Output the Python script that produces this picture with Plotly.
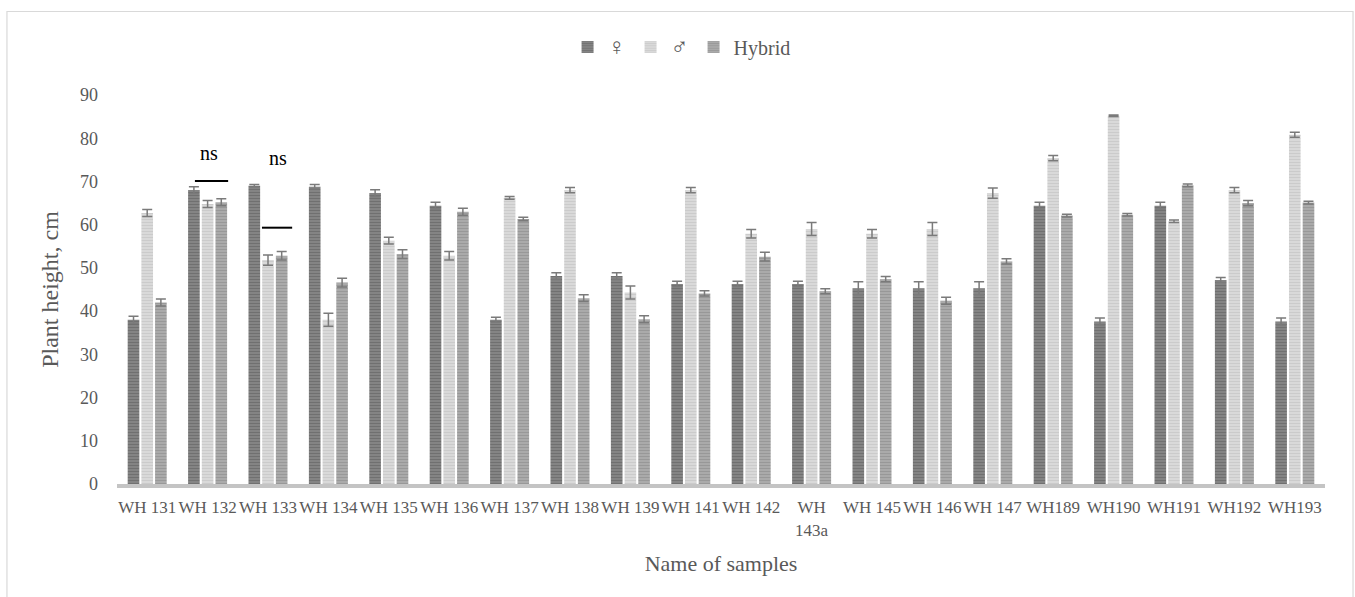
import plotly.graph_objects as go

categories = ["WH 131", "WH 132", "WH 133", "WH 134", "WH 135", "WH 136", "WH 137",
              "WH 138", "WH 139", "WH 141", "WH 142", "WH<br>143a", "WH 145", "WH 146",
              "WH 147", "WH189", "WH190", "WH191", "WH192", "WH193"]

female = [38.0, 68.0, 69.0, 68.8, 67.3, 64.4, 38.0, 48.1, 48.1, 46.3, 46.3, 46.3,
          45.3, 45.3, 45.3, 64.4, 37.6, 64.4, 47.2, 37.6]
male = [62.7, 64.8, 51.8, 38.0, 56.3, 52.8, 66.2, 68.0, 44.3, 68.0, 57.9, 59.0,
        57.9, 59.0, 67.3, 75.4, 85.2, 60.8, 68.0, 80.8]
hybrid = [42.0, 65.2, 52.8, 46.6, 53.2, 63.0, 61.3, 43.0, 38.1, 44.1, 52.6, 44.6,
          47.4, 42.4, 51.5, 62.1, 62.3, 69.1, 65.0, 65.1]

female_err = [0.8, 0.8, 0.3, 0.5, 0.8, 0.8, 0.6, 0.8, 0.8, 0.6, 0.6, 0.6,
              1.5, 1.5, 1.5, 0.8, 0.8, 0.8, 0.6, 0.8]
male_err = [0.8, 0.8, 1.2, 1.5, 0.8, 1.0, 0.3, 0.6, 1.5, 0.6, 1.0, 1.5,
            1.0, 1.5, 1.2, 0.6, 0.2, 0.3, 0.6, 0.6]
hybrid_err = [0.8, 0.8, 1.0, 1.0, 1.0, 0.8, 0.4, 0.8, 0.8, 0.6, 1.0, 0.6,
              0.6, 0.8, 0.6, 0.3, 0.3, 0.3, 0.6, 0.3]

series_names = ["♀", "♂", "Hybrid"]
y_ticks = [0, 10, 20, 30, 40, 50, 60, 70, 80, 90]

styles = [
    dict(bg="#8a8a8a", fg="#555555", label_size=24),
    dict(bg="#dedede", fg="#b8b8b8", label_size=24),
    dict(bg="#b0b0b0", fg="#808080", label_size=20),
]

FONT = "Liberation Serif"
fig = go.Figure()
for name, vals, errs, st in zip(series_names, [female, male, hybrid],
                                [female_err, male_err, hybrid_err], styles):
    fig.add_trace(go.Bar(
        x=categories, y=vals,
        name=f"<span style='font-size:{st['label_size']}px'>{name}</span>",
        marker=dict(color=st["bg"],
                    line=dict(width=0),
                    pattern=dict(shape="-", fgcolor=st["fg"], bgcolor=st["bg"],
                                 size=3, solidity=0.5)),
        error_y=dict(type="data", array=errs, visible=True, color="#7a7a7a",
                     thickness=1.5, width=5),
    ))

# significance markers
fig.add_shape(type="line", xref="x", yref="y", x0=0.79, x1=1.34, y0=70.1, y1=70.1,
              line=dict(color="black", width=2))
fig.add_shape(type="line", xref="x", yref="y", x0=1.90, x1=2.40, y0=59.3, y1=59.3,
              line=dict(color="black", width=2))
fig.add_annotation(x=1.03, y=76.5, xref="x", yref="y", text="ns", showarrow=False,
                   font=dict(family=FONT, size=20, color="black"))
fig.add_annotation(x=2.17, y=75.5, xref="x", yref="y", text="ns", showarrow=False,
                   font=dict(family=FONT, size=20, color="black"))

# outer chart border
fig.add_shape(type="rect", xref="paper", yref="paper", x0=-0.0911, x1=1.0232,
              y0=-0.32, y1=1.2147, line=dict(color="#d9d9d9", width=1.2),
              fillcolor="rgba(0,0,0,0)", layer="below")

fig.update_layout(
    width=1355, height=597,
    margin=dict(l=117, r=30, t=95, b=113, autoexpand=False),
    paper_bgcolor="white", plot_bgcolor="white",
    barmode="group", bargap=0.32, bargroupgap=0.15,
    font=dict(family=FONT, color="#595959"),
    showlegend=True,
    legend=dict(orientation="h", xref="container", yref="container",
                x=0.503, xanchor="center", y=1 - 47 / 597, yanchor="middle",
                font=dict(family=FONT, size=20, color="#595959"),
                itemwidth=30, tracegroupgap=0),
    xaxis=dict(showgrid=False, showline=True, linecolor="#c4c4c4", linewidth=4,
               ticks="", ticklabelstandoff=5,
               tickfont=dict(family=FONT, size=17, color="#595959"),
               title=dict(text="Name of samples", standoff=18,
                          font=dict(family=FONT, size=22, color="#595959"))),
    yaxis=dict(range=[0, 90], tickvals=y_ticks, showgrid=False, showline=False,
               zeroline=False, ticks="", ticklabelstandoff=18,
               tickfont=dict(family=FONT, size=18, color="#595959"),
               title=dict(text="Plant height, cm", standoff=14,
                          font=dict(family=FONT, size=24, color="#595959"))),
)

fig.write_html("out.html")
